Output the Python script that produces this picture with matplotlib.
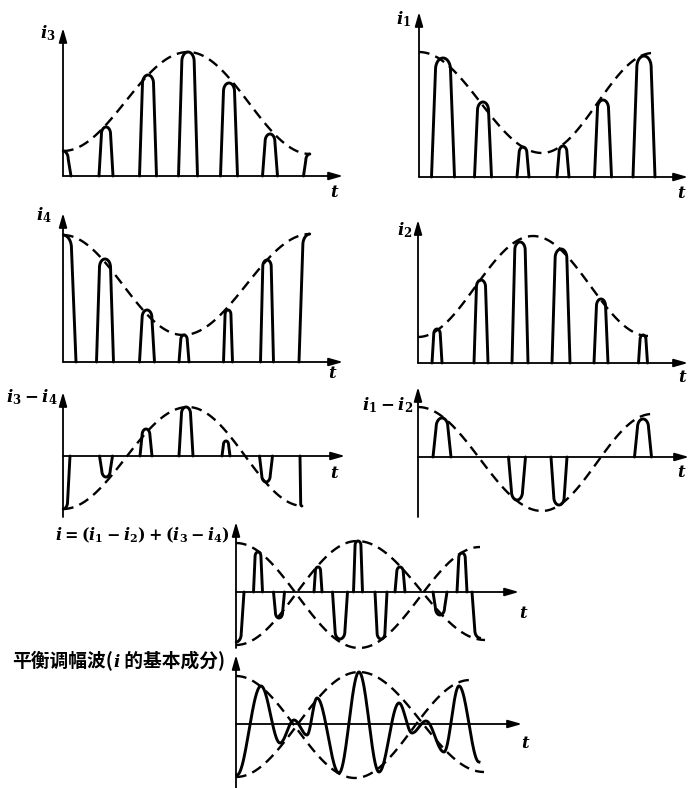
import numpy as np
import matplotlib.pyplot as plt

plt.rcParams['mathtext.fontset'] = 'custom'
plt.rcParams['mathtext.it'] = 'DejaVu Serif:italic:bold'
plt.rcParams['mathtext.rm'] = 'DejaVu Serif:bold'
plt.rcParams['mathtext.bf'] = 'DejaVu Serif:bold'

W, H = 689, 788

## i3 : pulses at the carrier peaks, envelope rising then falling
i3_env_t = [0, 125, 247]
i3_env_a = [25, 124, 22]
i3_t = [0, 43, 85, 125, 166, 207, 247]
i3_a = [25, 49, 101, 124, 93, 42, 22]
i3_dur = [16, 14, 17, 19, 17, 15, 13]

## i1
i1_env_t = [0, 123, 234]
i1_env_a = [125, 24, 124]
i1_t = [24, 64, 104, 144, 184, 225]
i1_a = [119, 75, 30, 31, 77, 121]
i1_dur = [23, 17, 12, 12, 17, 22]

## i4
i4_env_t = [0, 120, 247]
i4_env_a = [127, 27, 128]
i4_t = [0, 42, 84, 121, 165, 204, 247]
i4_a = [127, 103, 52, 27, 52, 102, 128]
i4_dur = [26, 17, 15, 10, 9, 13, 22]

## i2
i2_env_t = [0, 115, 230]
i2_env_a = [26, 127, 27]
i2_t = [19, 63, 102, 143, 183, 225]
i2_a = [34, 83, 121, 114, 64, 28]
i2_dur = [10, 14, 16, 18, 14, 9]

## i3 - i4
d34_env_t = [0, 125, 240]
d34_env_a = [-53, 49, -50]
d34_t = [0, 43, 83, 123, 163, 203, 239]
d34_a = [-53, -21, 27, 49, 15, -26, -50]
d34_dur = [14, 13, 12, 14, 8, 13, 4]

## i1 - i2
d12_env_t = [0, 124, 234]
d12_env_a = [50, -54, 43]
d12_t = [24, 99, 141, 225]
d12_a = [39, -43, -48, 38]
d12_dur = [18, 17, 16, 17]

## i = (i1 - i2) + (i3 - i4)
sum_envA_t = [0, 123, 244]
sum_envA_a = [49, -56, 45]
sum_envB_t = [0, 121, 249]
sum_envB_a = [-53, 51, -48]
sum_t = [0, 22, 43, 82, 104, 122, 145, 164, 204, 226, 244]
sum_a = [-50, 40, -26, 25, -47, 51, -47, 25, -23, 39, -46]
sum_dur = [16, 9, 11, 8, 15, 9, 12, 10, 14, 10, 16]

## fundamental component of i (balanced AM wave)
fund_envA_t = [0, 119, 234]
fund_envA_a = [48, -54, 44]
fund_envB_t = [0, 123, 248]
fund_envB_a = [-53, 52, -48]
fund_t = [1, 25, 44, 58, 71, 81, 103, 123, 143, 163, 176, 190, 208, 223, 243]
fund_a = [-51, 38, -19, 4, -11, 26, -49, 52, -48, 21, -9, 3, -28, 38, -38]


def smooth(ts, vs, n=40):
    # half-cosine segments between successive turning points
    xs, ys = [], []
    for t0, t1, v0, v1 in zip(ts[:-1], ts[1:], vs[:-1], vs[1:]):
        s = np.linspace(0, 1, n)
        xs.append(t0 + (t1 - t0) * s)
        ys.append(v0 + (v1 - v0) * (1 - np.cos(np.pi * s)) / 2)
    return np.concatenate(xs), np.concatenate(ys)


def arch(c, h, d):
    # one current pulse: slanted flanks and a rounded cap
    hw = d / 2
    top = 0.65 * hw
    a = abs(h)
    r = min(0.45 * a, 1.0 * hw)
    th = np.linspace(np.pi, 0, 40)
    x = np.concatenate([np.linspace(c - hw, c - top, 15),
                        c + top * np.cos(th),
                        np.linspace(c + top, c + hw, 15)])
    y = np.concatenate([np.linspace(0, a - r, 15),
                        (a - r) + r * np.sin(th),
                        np.linspace(a - r, 0, 15)])
    return x, y * np.sign(h)


def panel(ox, oy, length, up, down=0):
    ax = fig.add_axes([0, 0, 1, 1])
    ax.set_xlim(-ox, W - ox)
    ax.set_ylim(oy - H, oy)
    ax.axis('off')
    ax.patch.set_alpha(0)
    arr = dict(arrowstyle='-|>,head_length=0.7,head_width=0.2', color='k',
               lw=1.3, shrinkA=0, shrinkB=0, mutation_scale=12)
    ax.annotate('', xy=(length, 0), xytext=(0, 0), arrowprops=arr)
    ax.annotate('', xy=(0, up), xytext=(0, -down), arrowprops=arr)
    return ax


def envelope(ax, ts, vs):
    x, y = smooth(ts, vs)
    ax.plot(x, y, color='k', lw=1.7, dashes=(4.5, 2.7))


def pulses(ax, ts, amps, durs, t_end):
    for c, h, d in zip(ts, amps, durs):
        x, y = arch(c, h, d)
        m = (x >= 0) & (x <= t_end)
        ax.plot(x[m], y[m], color='k', lw=2.1, solid_capstyle='round',
                solid_joinstyle='round')


fig = plt.figure(figsize=(W / 100, H / 100), dpi=100)

ax = panel(63, 176, 280, 148)
envelope(ax, i3_env_t, i3_env_a)
pulses(ax, i3_t, i3_a, i3_dur, 247)

ax = panel(419, 177, 269, 165)
envelope(ax, i1_env_t, i1_env_a)
pulses(ax, i1_t, i1_a, i1_dur, 269)

ax = panel(63, 362, 280, 149)
envelope(ax, i4_env_t, i4_env_a)
pulses(ax, i4_t, i4_a, i4_dur, 247)

ax = panel(418, 363, 270, 143)
envelope(ax, i2_env_t, i2_env_a)
pulses(ax, i2_t, i2_a, i2_dur, 270)

ax = panel(63, 456, 282, 64, 61)
envelope(ax, d34_env_t, d34_env_a)
pulses(ax, d34_t, d34_a, d34_dur, 239)

ax = panel(418, 457, 271, 70, 60)
envelope(ax, d12_env_t, d12_env_a)
pulses(ax, d12_t, d12_a, d12_dur, 271)

ax = panel(236, 592, 283, 70, 56)
envelope(ax, sum_envA_t, sum_envA_a)
envelope(ax, sum_envB_t, sum_envB_a)
pulses(ax, sum_t, sum_a, sum_dur, 244)

ax = panel(236, 724, 286, 69, 64)
envelope(ax, fund_envA_t, fund_envA_a)
envelope(ax, fund_envB_t, fund_envB_a)
fx, fy = smooth(fund_t, fund_a)
ax.plot(fx, fy, color='k', lw=2.1, solid_joinstyle='round')


def ftext(x, y, s, **kw):
    return fig.text(x / W, 1 - y / H, s, **kw)


for s, x, y in [(r'$i_3$', 48, 33), (r'$i_1$', 404, 19), (r'$i_4$', 44, 215),
                (r'$i_2$', 405, 230), (r'$i_3-i_4$', 32, 397),
                (r'$i_1-i_2$', 388, 405)]:
    ftext(x, y, s, fontsize=12, ha='center', va='center')

for x, y in [(335, 192), (682, 193), (333, 373), (683, 377), (335, 473),
             (682, 472), (524, 613), (526, 743)]:
    ftext(x, y, r'$t$', fontsize=12, ha='center', va='center')

ftext(230, 535, r'$i=(i_1-i_2)+(i_3-i_4)$', fontsize=11.5, ha='right',
      va='center')

# caption built from pieces so the italic i keeps its own font
cjk = dict(family=['Noto Sans CJK SC', 'DejaVu Sans'], weight='bold',
           fontsize=13.5, va='baseline')
rend = fig.canvas.get_renderer()
x0 = 12
for s, props in [('平衡调幅波(', cjk),
                 (r'$i$', dict(fontsize=12, va='baseline')),
                 (' 的基本成分)', cjk)]:
    t = ftext(x0, 667, s, ha='left', **props)
    x0 = t.get_window_extent(rend).x1

fig.savefig('out.png', dpi=100)
